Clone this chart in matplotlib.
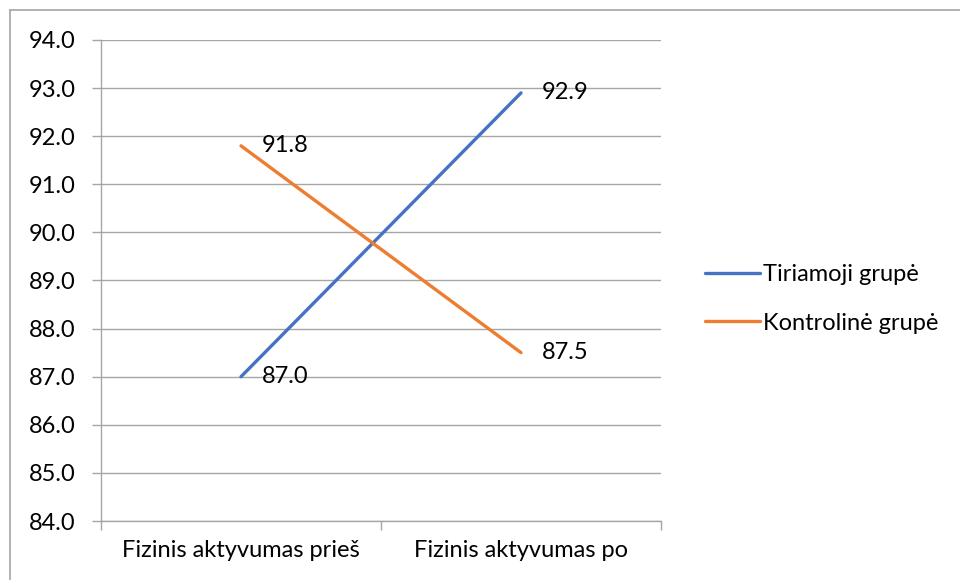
import matplotlib
matplotlib.use("Agg")
import matplotlib.pyplot as plt
from matplotlib.lines import Line2D

categories = ["Fizinis aktyvumas prieš", "Fizinis aktyvumas po"]
series_names = ["Tiriamoji grupė", "Kontrolinė grupė"]
tiriamoji = [87.0, 92.9]
kontroline = [91.8, 87.5]
y_ticks = [84.0, 85.0, 86.0, 87.0, 88.0, 89.0, 90.0, 91.0, 92.0, 93.0, 94.0]
colors = ["#4472C4", "#ED7D31"]

plt.rcParams['font.family'] = ['Lato', 'DejaVu Sans']
FS = 17

fig = plt.figure(figsize=(9.6, 5.8), dpi=100)
ax = fig.add_axes([101/960, 1-521/580, 560/960, 481/580])

xs = [0.5, 1.5]
for vals, name, c in zip([tiriamoji, kontroline], series_names, colors):
    ax.plot(xs, vals, color=c, lw=2.4, label=name, solid_capstyle='round')
    for x, v in zip(xs, vals):
        ax.annotate(f"{v:.1f}", (x, v), xytext=(15, 0), textcoords='offset points',
                    ha='left', va='center', fontsize=FS, color='black')

ax.set_xlim(0, 2)
ax.set_ylim(84, 94)
ax.set_yticks(y_ticks)
ax.set_yticklabels([f"{t:.1f}" for t in y_ticks], fontsize=FS)
ax.yaxis.grid(True, color='#A6A6A6', lw=1)
ax.set_axisbelow(True)

ax.set_xticks([0, 1, 2])
ax.set_xticklabels([])
ax.set_xticks(xs, minor=True)
ax.set_xticklabels(categories, minor=True, fontsize=FS)
ax.tick_params(axis='x', which='major', length=6.5, color='#A6A6A6', width=1, direction='out')
ax.tick_params(axis='x', which='minor', length=0, pad=14)
ax.tick_params(axis='y', length=6.5, color='#A6A6A6', width=1, pad=12)

for s in ['top', 'right']:
    ax.spines[s].set_visible(False)
for s in ['left', 'bottom']:
    ax.spines[s].set_color('#A6A6A6')
    ax.spines[s].set_linewidth(1)

leg = fig.legend(loc='center left', bbox_to_anchor=(684/960, 1-299/580), frameon=False,
                 fontsize=FS, handlelength=2.3, handletextpad=0.15, labelspacing=1.15)

# outer chart border (top and left visible)
fig.add_artist(Line2D([10/960, 1], [1-10/580, 1-10/580], transform=fig.transFigure, color='#A6A6A6', lw=1.2))
fig.add_artist(Line2D([10/960, 10/960], [0, 1-10/580], transform=fig.transFigure, color='#A6A6A6', lw=1.2))

fig.savefig("out.png", dpi=100, facecolor='white')
